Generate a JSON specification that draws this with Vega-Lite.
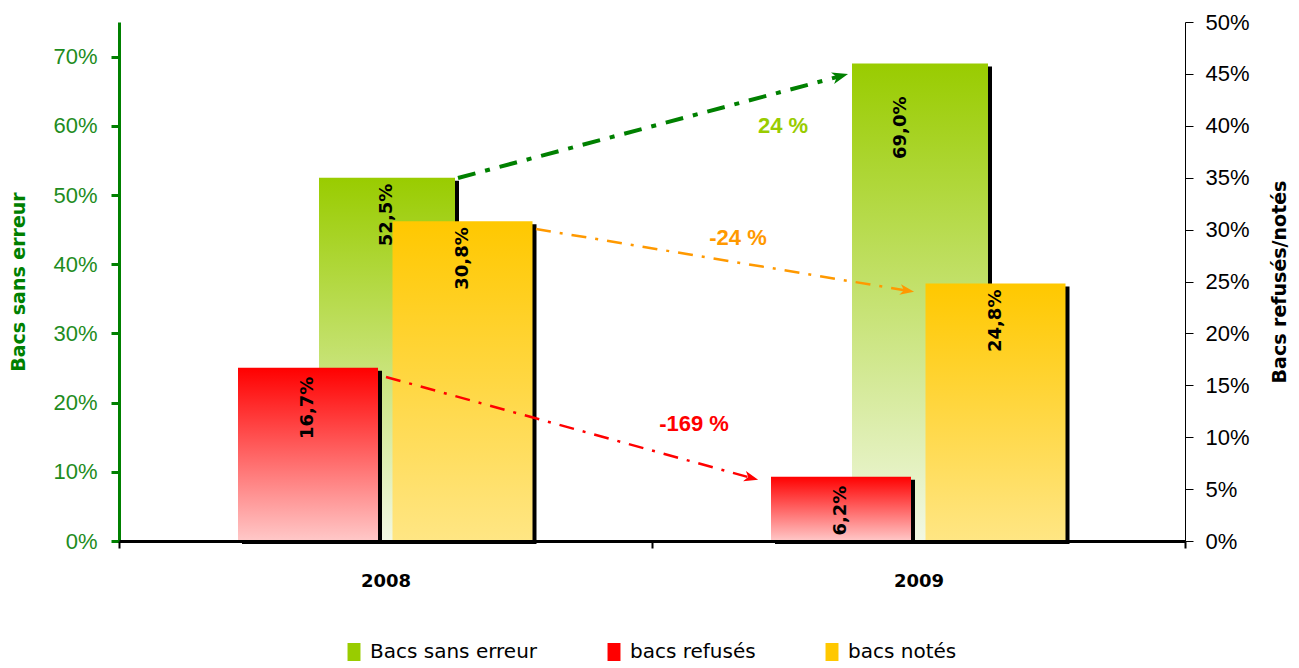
{
  "$schema": "https://vega.github.io/schema/vega-lite/v6.json",
  "width": 1066,
  "height": 519,
  "autosize": "none",
  "padding": {"left": 119, "top": 22, "right": 114, "bottom": 127},
  "config": {
    "view": {"stroke": null},
    "locale": {"number": {"decimal": ",", "thousands": " ", "grouping": [3], "currency": ["", " €"]}}
  },
  "datasets": {
    "bars": [
      {"year": "2008", "series": "Bacs sans erreur", "value": 0.525},
      {"year": "2009", "series": "Bacs sans erreur", "value": 0.69},
      {"year": "2008", "series": "bacs refusés", "value": 0.167},
      {"year": "2009", "series": "bacs refusés", "value": 0.062},
      {"year": "2008", "series": "bacs notés", "value": 0.308},
      {"year": "2009", "series": "bacs notés", "value": 0.248}
    ],
    "arrows": [
      {"series": "Bacs sans erreur", "v2008": 0.525, "v2009": 0.69, "change": "24 %"},
      {"series": "bacs refusés", "v2008": 0.167, "v2009": 0.062, "change": "-169 %"},
      {"series": "bacs notés", "v2008": 0.308, "v2009": 0.248, "change": "-24 %"}
    ]
  },
  "encoding": {
    "x": {
      "field": "year", "type": "nominal",
      "scale": {"domain": ["2008", "2009"], "paddingInner": 0, "paddingOuter": 0},
      "axis": {
        "title": null, "labelAngle": 0, "labelFont": "DejaVu Sans", "labelFontWeight": "bold",
        "labelFontSize": 18, "labelColor": "black", "labelPadding": 24,
        "domainColor": "black", "domainWidth": 3, "tickColor": "black", "tickWidth": 2,
        "tickSize": 7, "tickBand": "extent", "zindex": 1
      }
    }
  },
  "layer": [
    {
      "layer": [
        {
          "data": {"name": "bars"},
          "transform": [{"filter": "datum.series === 'Bacs sans erreur'"}],
          "mark": {"type": "bar", "width": 136, "xOffset": 5.5, "yOffset": 3, "y2Offset": 0, "color": "black"},
          "encoding": {
            "y": {
              "field": "value", "type": "quantitative",
              "scale": {"domain": [0, 0.75], "nice": false},
              "axis": {
                "orient": "left", "values": [0, 0.1, 0.2, 0.3, 0.4, 0.5, 0.6, 0.7], "format": ".0%",
                "grid": false, "title": "Bacs sans erreur", "titleColor": "#008000",
                "titleFont": "DejaVu Sans", "titleFontSize": 19, "titleFontWeight": "bold", "titlePadding": 24,
                "labelFont": "Liberation Sans", "labelFontSize": 22, "labelColor": "#1E8C1E", "labelPadding": 14,
                "domainColor": "#008000", "domainWidth": 3, "tickColor": "#008000", "tickWidth": 3, "tickSize": 8
              }
            }
          }
        },
        {
          "data": {"name": "bars"},
          "transform": [{"filter": "datum.series === 'Bacs sans erreur'"}],
          "mark": {
            "type": "bar", "width": 136, "xOffset": 1.5,
            "color": {"gradient": "linear", "x1": 0, "y1": 0, "x2": 0, "y2": 1,
              "stops": [{"offset": 0, "color": "#99CC00"}, {"offset": 1, "color": "#F2F8E4"}]}
          },
          "encoding": {"y": {"field": "value", "type": "quantitative"}}
        },
        {
          "data": {"name": "arrows"},
          "transform": [{"filter": "datum.series === 'Bacs sans erreur'"}],
          "mark": {"type": "rule", "color": "#008000", "strokeWidth": 4, "strokeDash": [18, 10, 5, 10],
            "xOffset": 72.5, "yOffset": 0.3, "x2Offset": -78, "y2Offset": 12.6},
          "encoding": {
            "x": {"datum": "2008", "type": "nominal"},
            "x2": {"datum": "2009"},
            "y": {"field": "v2008", "type": "quantitative"},
            "y2": {"field": "v2009"}
          }
        },
        {
          "data": {"name": "arrows"},
          "transform": [{"filter": "datum.series === 'Bacs sans erreur'"}],
          "mark": {"type": "point", "shape": "M1,0L-1,-0.75L-0.45,0L-1,0.75Z", "size": 256, "angle": -15,
            "filled": true, "opacity": 1, "color": "#008000", "xOffset": -78.2, "yOffset": 12.6},
          "encoding": {
            "x": {"datum": "2009", "type": "nominal"},
            "y": {"field": "v2009", "type": "quantitative"}
          }
        },
        {
          "data": {"name": "arrows"},
          "transform": [{"filter": "datum.series === 'Bacs sans erreur'"}],
          "mark": {"type": "text", "font": "Liberation Sans", "fontWeight": "bold", "fontSize": 22,
            "color": "#99CC00", "baseline": "middle", "align": "center", "xOffset": -135.5},
          "encoding": {
            "x": {"datum": "2009", "type": "nominal"},
            "y": {"datum": 0.6, "type": "quantitative"},
            "text": {"field": "change"}
          }
        }
      ]
    },
    {
      "layer": [
        {
          "data": {"name": "bars"},
          "transform": [{"filter": "datum.series === 'bacs refusés'"}],
          "mark": {"type": "bar", "width": 140, "xOffset": -73.5, "yOffset": 3, "y2Offset": 0, "color": "black"},
          "encoding": {
            "y": {
              "field": "value", "type": "quantitative",
              "scale": {"domain": [0, 0.5], "nice": false},
              "axis": {
                "orient": "right", "values": [0, 0.05, 0.1, 0.15, 0.2, 0.25, 0.3, 0.35, 0.4, 0.45, 0.5],
                "format": ".0%", "grid": false, "title": "Bacs refusés/notés", "titleColor": "black",
                "titleFont": "DejaVu Sans", "titleFontSize": 19, "titleFontWeight": "bold", "titleAngle": 270,
                "titlePadding": 40,
                "labelFont": "Liberation Sans", "labelFontSize": 22, "labelColor": "black", "labelPadding": 12,
                "domainColor": "black", "domainWidth": 1, "tickColor": "black", "tickWidth": 1, "tickSize": 8
              }
            }
          }
        },
        {
          "data": {"name": "bars"},
          "transform": [{"filter": "datum.series === 'bacs refusés'"}],
          "mark": {
            "type": "bar", "width": 140, "xOffset": -77.5,
            "color": {"gradient": "linear", "x1": 0, "y1": 0, "x2": 0, "y2": 1,
              "stops": [{"offset": 0, "color": "#FF0000"}, {"offset": 1, "color": "#FFC8C8"}]}
          },
          "encoding": {"y": {"field": "value", "type": "quantitative"}}
        },
        {
          "data": {"name": "bars"},
          "transform": [{"filter": "datum.series === 'bacs notés'"}],
          "mark": {"type": "bar", "width": 140, "xOffset": 81, "yOffset": 3, "y2Offset": 0, "color": "black"},
          "encoding": {"y": {"field": "value", "type": "quantitative"}}
        },
        {
          "data": {"name": "bars"},
          "transform": [{"filter": "datum.series === 'bacs notés'"}],
          "mark": {
            "type": "bar", "width": 140, "xOffset": 77,
            "color": {"gradient": "linear", "x1": 0, "y1": 0, "x2": 0, "y2": 1,
              "stops": [{"offset": 0, "color": "#FFC800"}, {"offset": 1, "color": "#FFE684"}]}
          },
          "encoding": {"y": {"field": "value", "type": "quantitative"}}
        },
        {
          "data": {"name": "arrows"},
          "transform": [{"filter": "datum.series === 'bacs notés'"}],
          "mark": {"type": "rule", "color": "#FF9900", "strokeWidth": 2.5, "strokeDash": [15, 9, 3, 9],
            "xOffset": 150.5, "yOffset": 7.7, "x2Offset": -11.4, "y2Offset": 7.1},
          "encoding": {
            "x": {"datum": "2008", "type": "nominal"},
            "x2": {"datum": "2009"},
            "y": {"field": "v2008", "type": "quantitative"},
            "y2": {"field": "v2009"}
          }
        },
        {
          "data": {"name": "arrows"},
          "transform": [{"filter": "datum.series === 'bacs notés'"}],
          "mark": {"type": "point", "shape": "M1,0L-1,-0.75L-0.45,0L-1,0.75Z", "size": 200, "angle": 9.4,
            "filled": true, "opacity": 1, "color": "#FF9900", "xOffset": -11.4, "yOffset": 7.1},
          "encoding": {
            "x": {"datum": "2009", "type": "nominal"},
            "y": {"field": "v2009", "type": "quantitative"}
          }
        },
        {
          "data": {"name": "arrows"},
          "transform": [{"filter": "datum.series === 'bacs refusés'"}],
          "mark": {"type": "rule", "color": "#FF0000", "strokeWidth": 2.5, "strokeDash": [15, 9, 3, 9],
            "xOffset": 0.5, "yOffset": 9.3, "x2Offset": -167.2, "y2Offset": 1.3},
          "encoding": {
            "x": {"datum": "2008", "type": "nominal"},
            "x2": {"datum": "2009"},
            "y": {"field": "v2008", "type": "quantitative"},
            "y2": {"field": "v2009"}
          }
        },
        {
          "data": {"name": "arrows"},
          "transform": [{"filter": "datum.series === 'bacs refusés'"}],
          "mark": {"type": "point", "shape": "M1,0L-1,-0.75L-0.45,0L-1,0.75Z", "size": 200, "angle": 15.4,
            "filled": true, "opacity": 1, "color": "#FF0000", "xOffset": -167.2, "yOffset": 1.3},
          "encoding": {
            "x": {"datum": "2009", "type": "nominal"},
            "y": {"field": "v2009", "type": "quantitative"}
          }
        },
        {
          "data": {"name": "arrows"},
          "transform": [{"filter": "datum.series === 'bacs notés'"}],
          "mark": {"type": "text", "font": "Liberation Sans", "fontWeight": "bold", "fontSize": 22,
            "color": "#FF9900", "baseline": "middle", "align": "center", "xOffset": -180.5},
          "encoding": {
            "x": {"datum": "2009", "type": "nominal"},
            "y": {"datum": 0.292, "type": "quantitative"},
            "text": {"field": "change"}
          }
        },
        {
          "data": {"name": "arrows"},
          "transform": [{"filter": "datum.series === 'bacs refusés'"}],
          "mark": {"type": "text", "font": "Liberation Sans", "fontWeight": "bold", "fontSize": 22,
            "color": "#FF0000", "baseline": "middle", "align": "center", "xOffset": -224.5},
          "encoding": {
            "x": {"datum": "2009", "type": "nominal"},
            "y": {"datum": 0.1127, "type": "quantitative"},
            "text": {"field": "change"}
          }
        },
        {
          "data": {"name": "bars"},
          "transform": [{"filter": "datum.series === 'bacs refusés'"}],
          "mark": {"type": "text", "font": "DejaVu Sans", "fontWeight": "bold", "fontSize": 18,
            "color": "black", "angle": 270, "align": "right", "baseline": "middle", "dx": -9, "xOffset": -77.5},
          "encoding": {
            "y": {"field": "value", "type": "quantitative"},
            "text": {"field": "value", "type": "quantitative", "format": ".1%"}
          }
        },
        {
          "data": {"name": "bars"},
          "transform": [{"filter": "datum.series === 'bacs notés'"}],
          "mark": {"type": "text", "font": "DejaVu Sans", "fontWeight": "bold", "fontSize": 18,
            "color": "black", "angle": 270, "align": "right", "baseline": "middle", "dx": -6, "xOffset": 77},
          "encoding": {
            "y": {"field": "value", "type": "quantitative"},
            "text": {"field": "value", "type": "quantitative", "format": ".1%"}
          }
        },
        {
          "data": {"name": "arrows"},
          "mark": {"type": "square", "filled": true, "opacity": 0},
          "encoding": {
            "color": {
              "field": "series", "type": "nominal",
              "scale": {"domain": ["Bacs sans erreur", "bacs refusés", "bacs notés"], "range": ["#99CC00", "#FF0000", "#FFC800"]},
              "legend": {
                "orient": "none", "legendX": 225, "legendY": 620, "direction": "horizontal", "title": null,
                "symbolType": "M-0.72,-1L0.72,-1L0.72,1L-0.72,1Z", "symbolSize": 324, "symbolOpacity": 1,
                "symbolStrokeWidth": 0, "labelLimit": 400,
                "labelFont": "DejaVu Sans", "labelFontSize": 20, "labelColor": "black", "labelOffset": 6,
                "columnPadding": 66,
                "encode": {
                  "symbols": {
                    "update": {
                      "opacity": {"value": 1},
                      "fill": {"signal": "datum.value === 'bacs refusés' ? {gradient: 'linear', x1: 0, y1: 0, x2: 0, y2: 1, stops: [{offset: 0, color: '#FF0000'}, {offset: 1, color: '#FFC8C8'}]} : datum.value === 'bacs notés' ? {gradient: 'linear', x1: 0, y1: 0, x2: 0, y2: 1, stops: [{offset: 0, color: '#FFC800'}, {offset: 1, color: '#FFE684'}]} : {gradient: 'linear', x1: 0, y1: 0, x2: 0, y2: 1, stops: [{offset: 0, color: '#99CC00'}, {offset: 1, color: '#F2F8E4'}]}"}
                    }
                  }
                }
              }
            }
          }
        }
      ]
    },
    {
      "data": {"name": "bars"},
      "transform": [{"filter": "datum.series === 'Bacs sans erreur' && datum.year === '2008'"}],
      "mark": {"type": "text", "font": "DejaVu Sans", "fontWeight": "bold", "fontSize": 18,
        "color": "black", "angle": 270, "align": "right", "baseline": "middle", "dx": -6, "xOffset": 1.5},
      "encoding": {
        "y": {"field": "value", "type": "quantitative", "scale": {"domain": [0, 0.75], "nice": false}, "axis": null},
        "text": {"field": "value", "type": "quantitative", "format": ".1%"}
      }
    },
    {
      "data": {"name": "bars"},
      "transform": [{"filter": "datum.series === 'Bacs sans erreur' && datum.year === '2009'"}],
      "mark": {"type": "text", "font": "DejaVu Sans", "fontWeight": "bold", "fontSize": 18,
        "color": "black", "angle": 270, "align": "right", "baseline": "middle", "dx": -33, "xOffset": -18},
      "encoding": {
        "y": {"field": "value", "type": "quantitative", "scale": {"domain": [0, 0.75], "nice": false}, "axis": null},
        "text": {"field": "value", "type": "quantitative", "format": ".1%"}
      }
    }
  ],
  "resolve": {"scale": {"y": "independent"}}
}
